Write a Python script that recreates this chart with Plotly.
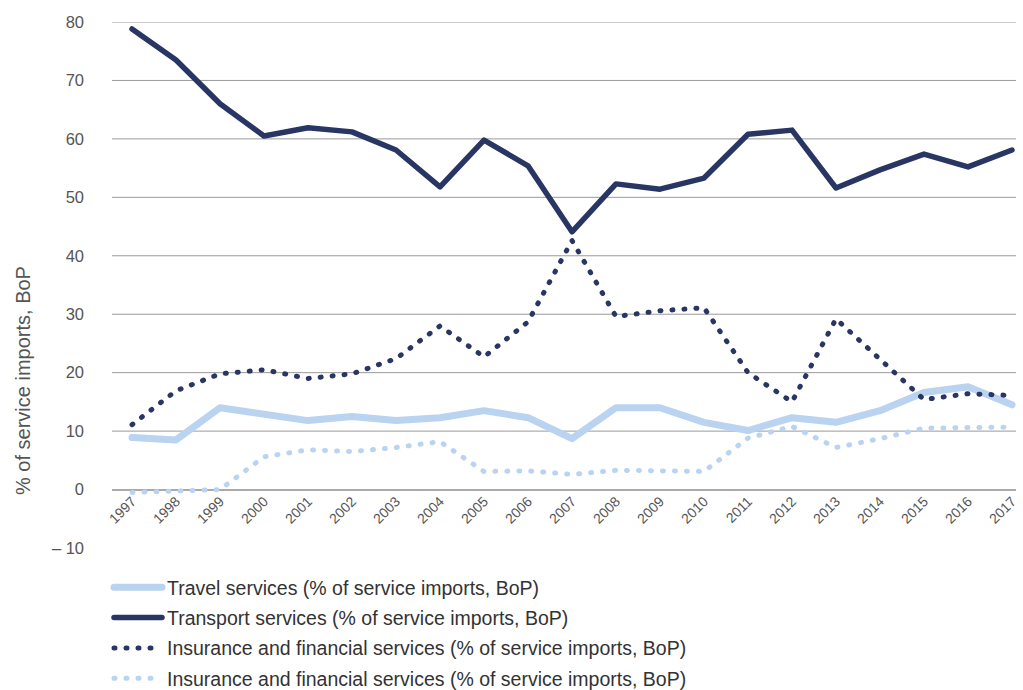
import plotly.graph_objects as go

years = list(range(1997, 2018))

travel = [8.9, 8.5, 14.0, 12.8, 11.8, 12.5, 11.8, 12.3, 13.5, 12.3, 8.7,
          14.0, 14.0, 11.5, 10.1, 12.3, 11.5, 13.5, 16.6, 17.6, 14.5]
transport = [78.8, 73.5, 66.0, 60.5, 61.9, 61.2, 58.1, 51.8, 59.8, 55.4, 44.1,
             52.3, 51.4, 53.3, 60.8, 61.5, 51.6, 54.7, 57.4, 55.2, 58.1]
insurance_a = [11.1, 16.9, 19.8, 20.5, 19.0, 19.8, 22.4, 28.0, 22.7, 28.7, 42.6,
               29.6, 30.6, 31.1, 20.0, 15.0, 29.2, 22.2, 15.4, 16.4, 16.1]
insurance_b = [-0.5, -0.3, 0.0, 5.6, 6.8, 6.5, 7.2, 8.2, 3.1, 3.2, 2.6,
               3.3, 3.2, 3.1, 8.8, 10.8, 7.2, 8.7, 10.5, 10.5, 10.7]

names = [
    "Travel services (% of service imports, BoP)",
    "Transport services (% of service imports, BoP)",
    "Insurance and financial services (% of service imports, BoP)",
    "Insurance and financial services (% of service imports, BoP)",
]

y_ticks = [-10, 0, 10, 20, 30, 40, 50, 60, 70, 80]
y_ticktext = ["\u2013 10"] + [str(v) for v in y_ticks[1:]]
grid_values = [10, 20, 30, 40, 50, 60, 70, 80]
Y_MIN, Y_MAX = -10, 80
y_title = "% of service imports, BoP"

W, H = 1023, 690
M_L, M_R, M_T, M_B = 112, 7, 22, 142
PLOT_W, PLOT_H = W - M_L - M_R, H - M_T - M_B

NAVY = "#293663"
LIGHT = "#b9d3f0"

fig = go.Figure()
series = [
    (travel, LIGHT, 7, "solid"),
    (transport, NAVY, 5.5, "solid"),
    (insurance_a, NAVY, 5, "1px,11px"),
    (insurance_b, LIGHT, 5, "1px,11px"),
]
for i, (vals, color, width, dash) in enumerate(series):
    fig.add_trace(go.Scatter(
        x=years, y=vals, mode="lines", name=names[i],
        legendgroup=f"g{i}",
        line=dict(color=color, width=width, dash=dash),
    ))

# horizontal gridlines (no line at the bottom tick)
for v in grid_values:
    fig.add_shape(type="line", xref="paper", yref="y", x0=0, x1=1, y0=v, y1=v,
                  line=dict(color="#9a9a9a", width=1), layer="below")

# vertical axis title, placed in pixel terms relative to the plot area
fig.add_annotation(
    text=y_title, textangle=-90, xref="paper", yref="paper",
    x=(23 - M_L) / PLOT_W, y=(H - M_B - 381) / PLOT_H,
    xanchor="center", yanchor="middle",
    showarrow=False, font=dict(size=20, color="#555555"),
)

fig.update_layout(
    width=W, height=H,
    margin=dict(l=M_L, r=M_R, t=M_T, b=M_B, autoexpand=False),
    paper_bgcolor="white", plot_bgcolor="white",
    font=dict(family="Liberation Sans, Arial, sans-serif", color="#555555", size=15),
    showlegend=True,
    legend=dict(
        orientation="v", xref="container", yref="container",
        x=109 / W, y=1 - 568 / H, xanchor="left", yanchor="top",
        font=dict(size=19.5, color="#333333"), itemwidth=48,
        tracegroupgap=2, bgcolor="rgba(0,0,0,0)",
    ),
    xaxis=dict(
        range=[1997 - 20 / 44, 2017 + 4 / 44],
        tickmode="array", tickvals=years, ticktext=[str(y) for y in years],
        tickangle=-45, showgrid=False, showline=False, zeroline=False,
        ticks="", tickfont=dict(size=14, color="#555555"),
        anchor="free", position=(0 - Y_MIN) / (Y_MAX - Y_MIN),
    ),
    yaxis=dict(
        range=[Y_MIN, Y_MAX], tickmode="array", tickvals=y_ticks, ticktext=y_ticktext,
        showgrid=False, zeroline=True, zerolinecolor="#aaaaaa", zerolinewidth=2,
        showline=False, ticks="", ticklabelstandoff=27,
        tickfont=dict(size=16.5, color="#555555"),
    ),
)

fig.write_html(
    "out.html",
    post_script="document.querySelectorAll('.js-line, .legendlines path').forEach(function(p){p.style.strokeLinecap='round';p.style.strokeLinejoin='round';});",
)
